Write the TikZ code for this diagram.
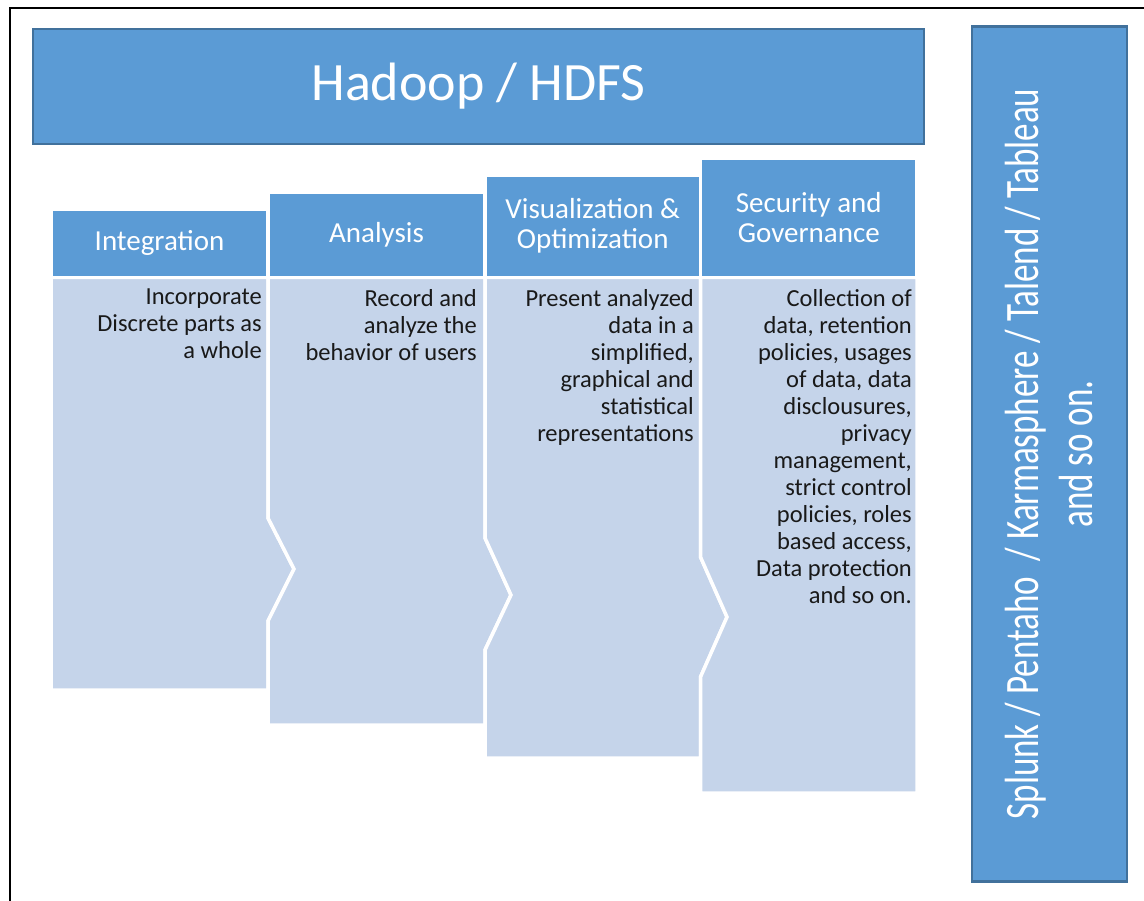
\documentclass[tikz,border=0pt]{standalone}
\usepackage{fontspec}
\setmainfont{Carlito}
\newfontfamily\narrowfont[FakeStretch=0.73]{Carlito}
\usetikzlibrary{positioning}
\definecolor{hdblue}{HTML}{5B9BD5}
\definecolor{hdedge}{HTML}{41719C}
\definecolor{hdlight}{HTML}{C5D4EA}

\begin{document}
\begin{tikzpicture}[x=1pt, y=-1pt,
    banner/.style = {rectangle, fill=hdblue, draw=hdedge, line width=2.5pt, text=white, align=center, inner sep=0pt, font=\fontsize{54}{60}\selectfont},
    head/.style = {rectangle, fill=hdblue, draw=white, line width=3.5pt, text=white, align=center, inner sep=0pt, font=\fontsize{29}{30}\selectfont},
    body/.style = {fill=hdlight, draw=white, line width=3.5pt, line join=miter},
    note/.style = {anchor=north east, align=right, inner sep=0pt, text=black!90, font=\fontsize{24.5}{27}\selectfont}
]
\useasboundingbox (0,0) rectangle (1144,901);

% Page frame (only left and top edges are visible)
\draw [line width=2pt] (9.5,910) -- (9.5,8.5) -- (1150,8.5);

% Top banner and tools column
\node (hadoop) [banner, minimum width=891pt, minimum height=115pt] at (478.5,86.5) {Hadoop / HDFS};
\node (tools) [banner, rotate=90, minimum width=855pt, minimum height=155pt, font=\narrowfont\fontsize{48}{54}\selectfont] at (1049.5,454) {Splunk / Pentaho~ / Karmasphere / Talend / Tableau\\and so on.};

% Bodies (each one points into the next column)
\path [body] (51,277.5) -- (268,277.5) -- (268,518) -- (294,569) -- (268,621) -- (268,690) -- (51,690) -- cycle;
\path [body] (268,277.5) -- (485,277.5) -- (485,538) -- (511,595) -- (485,650) -- (485,725) -- (268,725) -- (268,621) -- (294,569) -- (268,518) -- cycle;
\path [body] (485,277.5) -- (700.5,277.5) -- (700.5,557) -- (727,617) -- (700.5,677) -- (700.5,758) -- (485,758) -- (485,650) -- (511,595) -- (485,538) -- cycle;
\path [body] (700.5,277.5) -- (917,277.5) -- (917,793) -- (700.5,793) -- (700.5,677) -- (727,617) -- (700.5,557) -- cycle;

% Column headers (stepped tops)
\node (integ) [head, minimum width=217pt, minimum height=68.5pt] at (159.5,243.25) {Integration};
\node (analy) [head, minimum width=217pt, minimum height=85.5pt] at (376.5,234.75) {Analysis};
\node (visual) [head, minimum width=215.5pt, minimum height=102.5pt] at (592.75,226.25) {Visualization \&\\Optimization};
\node (secur) [head, minimum width=216.5pt, minimum height=119.5pt] at (808.75,217.75) {Security and\\Governance};

% Column texts
\node (integtext) [note] at (262,289) {Incorporate\\Discrete parts as\\a whole};
\node (analytext) [note] at (477,289) {Record and\\analyze the\\behavior of users};
\node (visualtext) [note] at (694,289) {Present analyzed\\data in a\\simplified,\\graphical and\\statistical\\representations};
\node (securtext) [note] at (912,289) {Collection of\\data, retention\\policies, usages\\of data, data\\disclousures,\\privacy\\management,\\strict control\\policies, roles\\based access,\\Data protection\\and so on.};

\end{tikzpicture}
\end{document}
